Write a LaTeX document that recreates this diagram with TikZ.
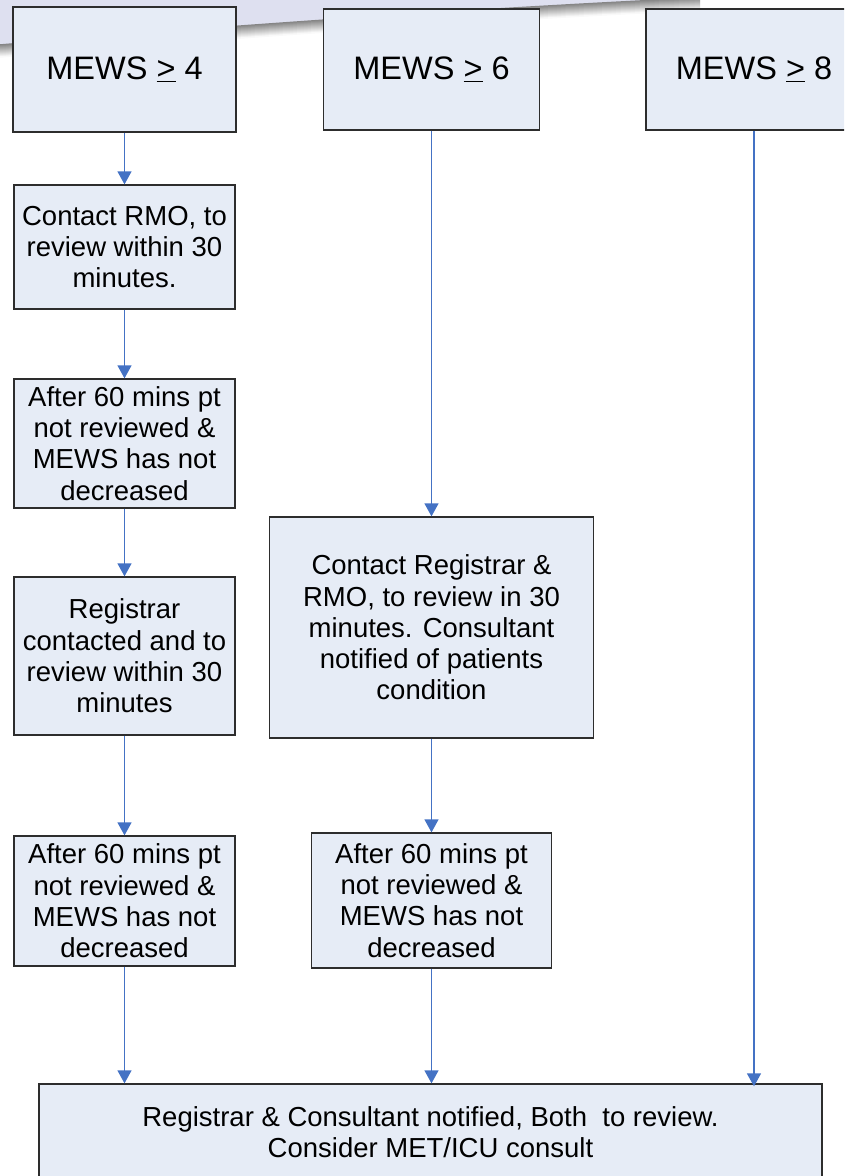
\documentclass[tikz,border=0pt]{standalone}
\usepackage{fontspec}
\setmainfont{Liberation Sans}
\usetikzlibrary{arrows.meta}
\definecolor{boxfill}{RGB}{230,236,246}
\definecolor{boxline}{RGB}{45,45,45}
\definecolor{arrowblue}{RGB}{68,114,196}
\definecolor{lavender}{RGB}{222,224,240}
\begin{document}
\begin{tikzpicture}[x=1pt,y=-1pt,
  flowbox/.style={draw=boxline, line width=1.3pt, fill=boxfill, inner sep=0pt, align=center,
    font=\fontsize{27.5}{31.3}\selectfont},
  headbox/.style={flowbox, font=\fontsize{32.5}{38}\selectfont},
  flowarrow/.style={draw=arrowblue, line width=1.3pt, -{Triangle[width=14pt,length=13pt]}}]
\useasboundingbox (0,0) rectangle (844,1176);
\clip (0,0) rectangle (844,1176);
% decorative swoosh
\fill[lavender] (0,0) -- (0,45) .. controls (200,28) and (450,10) .. (700,-2) -- cycle;
\foreach \i in {0,...,12} {
  \pgfmathsetmacro\shade{48-3.8*\i}
  \draw[line width=1.5pt, black!\shade] (0,45+\i) .. controls (200,28+\i) and (450,10+\i) .. (700,-2+\i);
}
% headers
\node[headbox, minimum width=223pt, minimum height=125pt] (h4) at (124.5,69.5) {MEWS \underline{>} 4};
\node[headbox, minimum width=216pt, minimum height=121pt] (h6) at (431.5,69.5) {MEWS \underline{>} 6};
\node[headbox, minimum width=216pt, minimum height=121pt] (h8) at (754,69.5) {MEWS \underline{>} 8};
% column 1
\node[flowbox, minimum width=221pt, minimum height=124pt] (c1) at (124.5,247) {Contact RMO, to\\review within 30\\minutes.};
\node[flowbox, minimum width=221pt, minimum height=129pt] (a1) at (124.5,443.5) {After 60 mins pt\\not reviewed \&\\MEWS has not\\decreased};
\node[flowbox, minimum width=221pt, minimum height=158pt] (r1) at (124.5,656) {Registrar\\contacted and to\\review within 30\\minutes};
\node[flowbox, minimum width=221pt, minimum height=130pt] (a2) at (124.5,901) {After 60 mins pt\\not reviewed \&\\MEWS has not\\decreased};
% column 2
\node[flowbox, minimum width=324pt, minimum height=221pt] (big) at (431.5,627.5) {Contact Registrar \&\\RMO, to review in 30\\minutes. Consultant\\notified of patients\\condition};
\node[flowbox, minimum width=240pt, minimum height=135pt] (a3) at (431.5,900.5) {After 60 mins pt\\not reviewed \&\\MEWS has not\\decreased};
% bottom
\node[flowbox, minimum width=783pt, minimum height=96pt] (bot) at (430.5,1132) {Registrar \& Consultant notified, Both\ \ to review.\\Consider MET/ICU consult};
% connectors
\draw[flowarrow] (h4.south) -- (c1.north);
\draw[flowarrow] (c1.south) -- (a1.north);
\draw[flowarrow] (a1.south) -- (r1.north);
\draw[flowarrow] (r1.south) -- (a2.north);
\draw[flowarrow] (a2.south) -- (a2.south |- bot.north);
\draw[flowarrow] (h6.south) -- (big.north);
\draw[flowarrow] (big.south) -- (a3.north);
\draw[flowarrow] (a3.south) -- (a3.south |- bot.north);
\draw[flowarrow, shorten >=-3pt] (h8.south) -- (h8.south |- bot.north);
\end{tikzpicture}
\end{document}
